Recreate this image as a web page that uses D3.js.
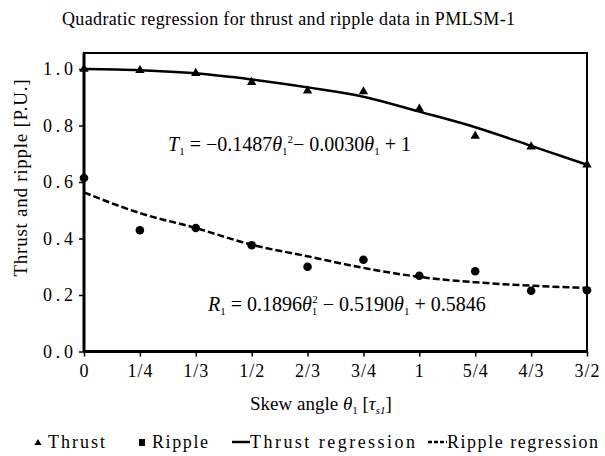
<!DOCTYPE html>
<html>
<head>
<meta charset="utf-8">
<script src="https://cdn.jsdelivr.net/npm/d3@7"></script>
<style>
  body { margin: 0; background: #fff; }
  svg text { font-family: 'Liberation Serif', 'Times New Roman', Times, 'DejaVu Serif', serif !important; fill: #000; }
</style>
</head>
<body>
<script>
'use strict'

const categories = ['0', '1/4', '1/3', '1/2', '2/3', '3/4', '1', '5/4', '4/3', '3/2']
const thrust     = [1.000, 0.995, 0.985, 0.953, 0.923, 0.920, 0.859, 0.763, 0.725, 0.661]
const ripple     = [0.614, 0.429, 0.437, 0.376, 0.300, 0.325, 0.268, 0.284, 0.215, 0.217]
// regression curves at each category
const thrustFit  = [1.000, 0.996, 0.985, 0.963, 0.935, 0.902, 0.849, 0.794, 0.728, 0.661]
const rippleFit  = [0.563, 0.490, 0.437, 0.378, 0.337, 0.296, 0.264, 0.245, 0.233, 0.225]
const yTicks     = [0, 0.2, 0.4, 0.6, 0.8, 1.0]

window.onload = function () {

  const width = 605, height = 456
  const plot = {left: 84, right: 587, top: 53, bottom: 351.5}

  const svg = d3.select('body').append('svg')
    .attr('width', width)
    .attr('height', height)

  const x = d3.scalePoint()
    .domain(categories)
    .range([plot.left, plot.right])

  const y = d3.scaleLinear()
    .domain([0, 1])
    .range([plot.bottom, 69])

  // title
  svg.append('text')
    .attr('x', 62).attr('y', 25)
    .attr('font-size', 18)
    .attr('textLength', 453).attr('lengthAdjust', 'spacing')
    .text('Quadratic regression for thrust and ripple data in PMLSM-1')

  // frame
  svg.append('rect')
    .attr('x', plot.left).attr('y', plot.top)
    .attr('width', plot.right - plot.left)
    .attr('height', plot.bottom - plot.top)
    .attr('fill', 'none')
    .attr('stroke', '#000')
    .attr('stroke-width', 2)

  // y axis
  const yAxis = svg.append('g')
    .attr('transform', 'translate(' + [plot.left, 0] + ')')
    .call(d3.axisLeft(y).tickValues(yTicks).tickFormat(d3.format('.1f')).tickSizeOuter(0).tickSize(5).tickPadding(6))
  yAxis.select('.domain').attr('stroke-width', 3).attr('d', 'M0,' + plot.top + 'V' + plot.bottom)
  yAxis.selectAll('.tick line').attr('stroke-width', 1.5)
  yAxis.selectAll('.tick text')
    .attr('font-size', 18)
    .attr('textLength', 30).attr('lengthAdjust', 'spacing')

  // x axis
  const xAxis = svg.append('g')
    .attr('transform', 'translate(' + [0, plot.bottom] + ')')
    .call(d3.axisBottom(x).tickSizeOuter(0).tickSize(5).tickPadding(8))
  xAxis.select('.domain').attr('stroke-width', 3).attr('d', 'M' + plot.left + ',0H' + plot.right)
  xAxis.selectAll('.tick line').attr('stroke-width', 1.5)
  xAxis.selectAll('.tick text')
    .attr('font-size', 18)
    .attr('letter-spacing', 1)

  // axis titles
  svg.append('text')
    .attr('transform', 'translate(27,178) rotate(-90)')
    .attr('text-anchor', 'middle')
    .attr('font-size', 19)
    .attr('textLength', 197).attr('lengthAdjust', 'spacing')
    .text('Thrust and ripple [P.U.]')

  const xt = svg.append('text')
    .attr('x', 250).attr('y', 410)
    .attr('font-size', 19)
  xt.append('tspan').text('Skew angle ')
  xt.append('tspan').attr('font-style', 'italic').text('θ')
  xt.append('tspan').attr('font-size', 11).attr('dy', 4).text('1')
  xt.append('tspan').attr('dy', -4).text(' [')
  xt.append('tspan').attr('font-style', 'italic').text('τ')
  xt.append('tspan').attr('font-style', 'italic').attr('font-size', 11).attr('dy', 4).text('s1')
  xt.append('tspan').attr('dy', -4).text(']')

  // regression curves
  const line = d3.line()
    .x((d, i) => x(categories[i]))
    .y(d => y(d))
    .curve(d3.curveMonotoneX)

  svg.append('path')
    .attr('d', line(thrustFit))
    .attr('fill', 'none').attr('stroke', '#000').attr('stroke-width', 2.5)

  svg.append('path')
    .attr('d', line(rippleFit))
    .attr('fill', 'none').attr('stroke', '#000').attr('stroke-width', 2.5)
    .attr('stroke-dasharray', '7,3')

  // markers
  svg.append('g').selectAll('path')
    .data(thrust)
    .enter()
    .append('path')
    .attr('d', d3.symbol(d3.symbolTriangle).size(38))
    .attr('transform', (d, i) => 'translate(' + [x(categories[i]), y(d)] + ')')
    .attr('fill', '#000')

  svg.append('g').selectAll('circle')
    .data(ripple)
    .enter()
    .append('circle')
    .attr('cx', (d, i) => x(categories[i]))
    .attr('cy', d => y(d))
    .attr('r', 4.3)
    .attr('fill', '#000')

  // equations
  const eqT = svg.append('text')
    .attr('x', 168).attr('y', 151)
    .attr('font-size', 20)
  eqT.append('tspan').attr('font-style', 'italic').text('T')
  eqT.append('tspan').attr('font-size', 11).attr('dy', 4).text('1')
  eqT.append('tspan').attr('dy', -4).text(' = −0.1487')
  eqT.append('tspan').attr('font-style', 'italic').text('θ')
  eqT.append('tspan').attr('font-size', 11).attr('dy', 4).text('1')
  eqT.append('tspan').attr('font-size', 11).attr('dy', -12).text('2')
  eqT.append('tspan').attr('dy', 8).text('− 0.0030')
  eqT.append('tspan').attr('font-style', 'italic').text('θ')
  eqT.append('tspan').attr('font-size', 11).attr('dy', 4).text('1')
  eqT.append('tspan').attr('dy', -4).text(' + 1')

  const eqR = svg.append('text')
    .attr('x', 208).attr('y', 311)
    .attr('font-size', 20)
  eqR.append('tspan').attr('font-style', 'italic').text('R')
  eqR.append('tspan').attr('font-size', 11).attr('dy', 4).text('1')
  eqR.append('tspan').attr('dy', -4).text(' = 0.1896')
  eqR.append('tspan').attr('font-style', 'italic').text('θ')
  eqR.append('tspan').attr('font-size', 11).attr('dy', 4).text('1')
  eqR.append('tspan').attr('font-size', 11).attr('dx', -5).attr('dy', -12).text('2')
  eqR.append('tspan').attr('dy', 8).text(' − 0.5190')
  eqR.append('tspan').attr('font-style', 'italic').text('θ')
  eqR.append('tspan').attr('font-size', 11).attr('dy', 4).text('1')
  eqR.append('tspan').attr('dy', -4).text(' + 0.5846')

  // legend
  const lg = svg.append('g').attr('transform', 'translate(0,448)')
  lg.append('path')
    .attr('d', d3.symbol(d3.symbolTriangle).size(22))
    .attr('transform', 'translate(38,-5)')
  lg.append('text').attr('x', 48).attr('font-size', 18)
    .attr('textLength', 57).attr('lengthAdjust', 'spacing').text('Thrust')
  lg.append('rect').attr('x', 139).attr('y', -9).attr('width', 6).attr('height', 7)
  lg.append('text').attr('x', 152).attr('font-size', 18)
    .attr('textLength', 56).attr('lengthAdjust', 'spacing').text('Ripple')
  lg.append('line').attr('x1', 232).attr('x2', 250).attr('y1', -6).attr('y2', -6)
    .attr('stroke', '#000').attr('stroke-width', 2.5)
  lg.append('text').attr('x', 250).attr('font-size', 18)
    .attr('textLength', 165).attr('lengthAdjust', 'spacing').text('Thrust regression')
  lg.append('line').attr('x1', 428).attr('x2', 447).attr('y1', -6).attr('y2', -6)
    .attr('stroke', '#000').attr('stroke-width', 2.5).attr('stroke-dasharray', '4,2')
  lg.append('text').attr('x', 447).attr('font-size', 18)
    .attr('textLength', 151).attr('lengthAdjust', 'spacing').text('Ripple regression')
}
</script>
</body>
</html>
